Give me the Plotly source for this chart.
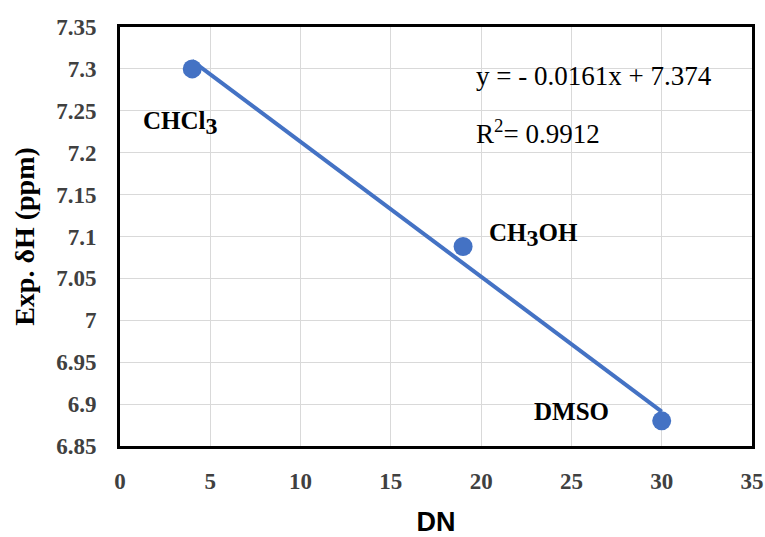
import plotly.graph_objects as go

solvents = ["CHCl<sub><span style='font-size:24px'>3</span></sub>",
            "CH<sub><span style='font-size:24px'>3</span></sub>OH",
            "DMSO"]
dn = [4, 19, 30]
delta_h = [7.30, 7.088, 6.88]
slope = -0.0161
intercept = 7.374
r2 = 0.9912

x_ticks = [0, 5, 10, 15, 20, 25, 30, 35]
y_ticks = [6.85, 6.9, 6.95, 7.0, 7.05, 7.1, 7.15, 7.2, 7.25, 7.3, 7.35]
y_tick_text = ["6.85", "6.9", "6.95", "7", "7.05", "7.1", "7.15", "7.2", "7.25", "7.3", "7.35"]

label_pos = [(3.35, 7.236), (22.9, 7.102), (25.0, 6.891)]

blue = "#4472C4"
fit_x = [min(dn), max(dn)]
fit_y = [slope * v + intercept for v in fit_x]

fig = go.Figure()
fig.add_trace(go.Scatter(x=fit_x, y=fit_y, mode="lines",
                         line=dict(color=blue, width=4), showlegend=False))
fig.add_trace(go.Scatter(x=dn, y=delta_h, mode="markers",
                         marker=dict(color=blue, size=19), showlegend=False))

serif = "Liberation Serif"
for name, (lx, ly) in zip(solvents, label_pos):
    fig.add_annotation(x=lx, y=ly, text=name, showarrow=False,
                       font=dict(family=serif, size=25, color="black", weight="bold"),
                       xanchor="center", yanchor="middle")

fig.add_annotation(x=19.6, y=7.2915, xanchor="left", yanchor="middle", showarrow=False,
                   text=f"y = - {abs(slope)}x + {intercept}",
                   font=dict(family=serif, size=27, color="black"))
fig.add_annotation(x=19.6, y=7.225, xanchor="left", yanchor="middle", showarrow=False,
                   text=f"R<sup>2</sup>= {r2}",
                   font=dict(family=serif, size=27, color="black"))

fig.update_layout(
    width=765, height=537,
    margin=dict(l=120, r=13, t=27, b=91),
    paper_bgcolor="white", plot_bgcolor="white",
    showlegend=False,
)
fig.update_xaxes(range=[0, 35], tickvals=x_ticks, ticktext=[str(t) for t in x_ticks],
                 showgrid=True, gridcolor="#d9d9d9", gridwidth=1, zeroline=False,
                 showline=True, linecolor="black", linewidth=3, mirror=True,
                 ticks="", ticklabelstandoff=12, automargin=False,
                 tickfont=dict(family=serif, size=23, color="#404040", weight="bold"),
                 title=dict(text="DN", font=dict(family="Liberation Sans", size=27, color="black", weight="bold"),
                            standoff=22))
fig.update_yaxes(range=[6.85, 7.35], tickvals=y_ticks, ticktext=y_tick_text,
                 showgrid=True, gridcolor="#d9d9d9", gridwidth=1, zeroline=False,
                 showline=True, linecolor="black", linewidth=3, mirror=True,
                 ticks="", ticklabelstandoff=16, automargin=False,
                 tickfont=dict(family=serif, size=23, color="#404040", weight="bold"),
                 title=dict(text="Exp. δH (ppm)", font=dict(family=serif, size=28, color="black", weight="bold"),
                            standoff=14))

fig.write_html("out.html")
